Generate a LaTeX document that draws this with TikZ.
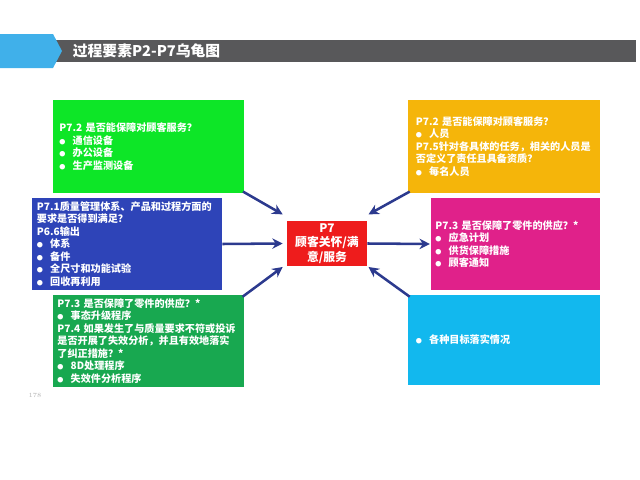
\documentclass[tikz,border=0pt]{standalone}
\usepackage{fontspec}
\usepackage{xcolor}
\usetikzlibrary{arrows.meta,positioning}
\newfontfamily\cjk{Noto Sans CJK SC}
\definecolor{boxlime}{HTML}{0DE627}
\definecolor{boxblue}{HTML}{2E44B8}
\definecolor{boxgreen}{HTML}{18A850}
\definecolor{boxyellow}{HTML}{F5B50A}
\definecolor{boxpink}{HTML}{E0218A}
\definecolor{boxcyan}{HTML}{12B8EE}
\definecolor{boxred}{HTML}{EE1C1C}
\definecolor{arrownavy}{HTML}{2C3A8E}
\definecolor{bargray}{HTML}{58585A}
\definecolor{tabblue}{HTML}{40B0EA}
\newcommand{\bul}{\makebox[1.3em][l]{\scalebox{0.6}{●}}}
\tikzset{
  qbox/.style={rectangle, fill=#1, text=white, align=left, inner ysep=0pt, inner xsep=0.16cm,
    minimum height=2.3cm, font=\cjk\bfseries\fontsize{7.2}{8.9}\selectfont},
  centerbox/.style={rectangle, fill=boxred, text=white, align=center, inner sep=0pt,
    minimum width=2.0cm, minimum height=1.1cm, font=\cjk\bfseries\fontsize{8.4}{10.4}\selectfont},
  turtlearrow/.style={-{Stealth[length=2.6mm,width=2.6mm]}, draw=arrownavy, line width=1.8pt}
}
\begin{document}
\begin{tikzpicture}[x=0.025cm, y=-0.025cm]
\useasboundingbox (0,0) rectangle (640,480);
% header bar
\fill[bargray] (55,40) rectangle (636,62);
\fill[tabblue] (0,34) -- (53,34) -- (62,51) -- (53,68) -- (0,68) -- cycle;
\node[anchor=west, text=white, font=\cjk\bfseries\fontsize{10.5}{12}\selectfont] (title) at (68,51) {过程要素P2-P7乌龟图};
% centre
\node[centerbox] (cust) at (327,243.5) {P7\\顾客关怀/满\\意/服务};
% left side
\node[qbox=boxlime, text width=4.45cm] (lime) at (148.5,146.5)
  {P7.2 是否能保障对顾客服务？\\\bul 通信设备\\\bul 办公设备\\\bul 生产监测设备};
\node[qbox=boxblue, text width=4.5cm, inner xsep=0.125cm] (blue) at (127,244)
  {P7.1质量管理体系、产品和过程方面的\\要求是否得到满足？\\P6.6输出\\\bul 体系\\\bul 备件\\\bul 全尺寸和功能试验\\\bul 回收再利用};
\node[qbox=boxgreen, text width=4.55cm, inner xsep=0.1cm] (green) at (148.5,341)
  {P7.3 是否保障了零件的供应？*\\\bul 事态升级程序\\P7.4 如果发生了与质量要求不符或投诉\\是否开展了失效分析，并且有效地落实\\了纠正措施？*\\\bul 8D处理程序\\\bul 失效件分析程序};
% right side
\node[qbox=boxyellow, text width=4.4cm, inner xsep=0.2cm] (yellow) at (504,146.5)
  {P7.2 是否能保障对顾客服务？\\\bul 人员\\P7.5针对各具体的任务，相关的人员是\\否定义了责任且具备资质？\\\bul 每名人员};
\node[qbox=boxpink, text width=4.0cm, inner xsep=0.1125cm] (pink) at (515.5,244)
  {P7.3 是否保障了零件的供应？*\\\bul 应急计划\\\bul 供货保障措施\\\bul 顾客通知};
\node[qbox=boxcyan, text width=4.4cm, inner xsep=0.2cm, minimum height=2.25cm] (cyan) at (504,340)
  {\bul 各种目标落实情况};
% arrows
\draw[turtlearrow] ([xshift=-0.03cm,yshift=0.03cm]lime.south east) -- ([xshift=-0.1cm,yshift=0.17cm]cust.north west);
\draw[turtlearrow] (blue.east) -- ([xshift=-0.1cm]cust.west);
\draw[turtlearrow] ([xshift=-0.03cm,yshift=-0.05cm]green.north east) -- ([xshift=-0.1cm,yshift=-0.03cm]cust.south west);
\draw[turtlearrow] ([xshift=0.05cm,yshift=0.03cm]yellow.south west) -- ([xshift=0.03cm,yshift=0.17cm]cust.north east);
\draw[turtlearrow] (cust.east) -- ([xshift=-0.02cm]pink.west);
\draw[turtlearrow] ([xshift=0.05cm,yshift=-0.05cm]cyan.north west) -- ([xshift=0.03cm,yshift=-0.03cm]cust.south east);
% page number
\node[text=gray!60, font=\fontsize{4.5}{5}\selectfont] (pageno) at (35,395) {178};
\end{tikzpicture}
\end{document}
